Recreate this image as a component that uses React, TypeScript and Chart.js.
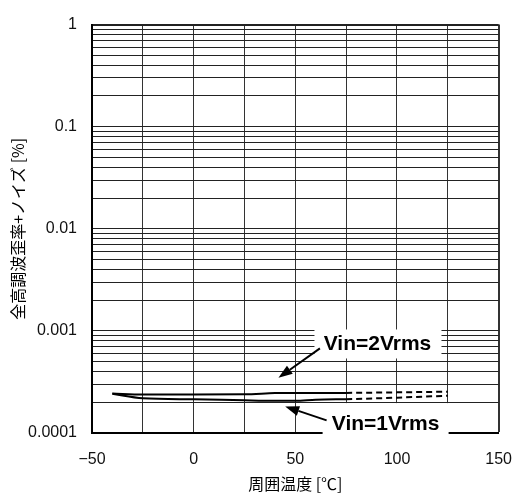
import { useEffect, useRef } from 'react';
import { Chart, registerables } from 'chart.js';

Chart.register(...registerables);

// ---- data ----
const solidTemps = [-40, -25, 0, 25, 40, 50, 60, 75];
const vin2Solid = [2.44e-4, 2.38e-4, 2.38e-4, 2.39e-4, 2.46e-4, 2.47e-4, 2.47e-4, 2.47e-4];
const vin1Solid = [2.42e-4, 2.19e-4, 2.14e-4, 2.09e-4, 2.07e-4, 2.07e-4, 2.12e-4, 2.14e-4];
const dottedTemps = [75, 100, 125];
const vin2Dotted = [2.47e-4, 2.5e-4, 2.54e-4];
const vin1Dotted = [2.14e-4, 2.22e-4, 2.32e-4];

const xTickValues = [-50, 0, 50, 100, 150];
const xTickLabels = ['\u221250', '0', '50', '100', '150'];
const yTickValues = [1, 0.1, 0.01, 0.001, 0.0001];
const yTickLabels = ['1', '0.1', '0.01', '0.001', '0.0001'];

const xTitle = '周囲温度 [℃]';
const yTitle = '全高調波歪率+ノイズ [%]';

// annotation anchors (data coordinates)
const annotTexts = ['Vin=2Vrms', 'Vin=1Vrms'];
const annotAt = [
  { x: 90.4, y: 7.53e-4 },
  { x: 94.4, y: 1.25e-4 },
];
const arrowTail = [
  { x: 62.1, y: 6.75e-4 },
  { x: 65.4, y: 1.33e-4 },
];
const arrowTip = [
  { x: 41.7, y: 3.47e-4 },
  { x: 45.0, y: 1.82e-4 },
];
// box extents relative to label center (px): left, top, width, height
const annotBox = [
  [-63, -14, 127, 29],
  [-63, -20, 126, 34],
];

const toPts = (xs: number[], ys: number[]) => xs.map((x, i) => ({ x, y: ys[i] }));

const annotationPlugin = {
  id: 'annotLabels',
  afterDraw(chart: any) {
    const { ctx, scales } = chart;
    const xs = scales.x;
    const ys = scales.y;
    ctx.save();
    annotTexts.forEach((text, i) => {
      const cx = xs.getPixelForValue(annotAt[i].x);
      const cy = ys.getPixelForValue(annotAt[i].y);
      const b = annotBox[i];
      ctx.fillStyle = '#fff';
      ctx.fillRect(cx + b[0], cy + b[1], b[2], b[3]);
      ctx.fillStyle = '#000';
      ctx.font = 'bold 21px "Liberation Sans", Arial, sans-serif';
      ctx.textAlign = 'center';
      ctx.textBaseline = 'middle';
      ctx.fillText(text, cx, cy + 1);

      const tx = xs.getPixelForValue(arrowTail[i].x);
      const ty = ys.getPixelForValue(arrowTail[i].y);
      const hx = xs.getPixelForValue(arrowTip[i].x);
      const hy = ys.getPixelForValue(arrowTip[i].y);
      const ang = Math.atan2(hy - ty, hx - tx);
      const headLen = 14;
      const headW = 5;
      const bx = hx - headLen * Math.cos(ang);
      const by = hy - headLen * Math.sin(ang);
      ctx.strokeStyle = '#000';
      ctx.lineWidth = 2;
      ctx.beginPath();
      ctx.moveTo(tx, ty);
      ctx.lineTo(bx, by);
      ctx.stroke();
      ctx.beginPath();
      ctx.moveTo(hx, hy);
      ctx.lineTo(bx + headW * Math.sin(ang), by - headW * Math.cos(ang));
      ctx.lineTo(bx - headW * Math.sin(ang), by + headW * Math.cos(ang));
      ctx.closePath();
      ctx.fill();
    });
    ctx.restore();
  },
};

const tickFont = { family: '"Liberation Sans", Arial, sans-serif', size: 16 };
const titleFont = { family: '"Noto Sans CJK JP", sans-serif', size: 16 };

export default function App() {
  const ref = useRef<HTMLCanvasElement | null>(null);

  useEffect(() => {
    if (!ref.current) return;
    const lineStyle = {
      borderColor: '#000',
      backgroundColor: '#000',
      borderWidth: 2,
      pointRadius: 0,
      fill: false,
      cubicInterpolationMode: 'monotone' as const,
    };
    const chart = new Chart(ref.current, {
      type: 'line',
      data: {
        datasets: [
          { label: 'Vin=2Vrms', data: toPts(solidTemps, vin2Solid), ...lineStyle },
          { label: 'Vin=1Vrms', data: toPts(solidTemps, vin1Solid), ...lineStyle },
          { label: 'Vin=2Vrms ext', data: toPts(dottedTemps, vin2Dotted), ...lineStyle, borderDash: [6, 4] },
          { label: 'Vin=1Vrms ext', data: toPts(dottedTemps, vin1Dotted), ...lineStyle, borderDash: [6, 4] },
        ],
      },
      options: {
        responsive: false,
        animation: false,
        devicePixelRatio: 1,
        layout: { padding: { top: 18, right: 16, bottom: 0, left: 0 } },
        plugins: { legend: { display: false }, tooltip: { enabled: false } },
        scales: {
          x: {
            type: 'linear',
            min: -50,
            max: 150,
            afterFit: (s: any) => {
              s.height = 61;
            },
            ticks: {
              stepSize: 25,
              autoSkip: false,
              maxRotation: 0,
              padding: 17,
              color: '#111',
              font: tickFont,
              callback: (v: any) => {
                const i = xTickValues.indexOf(Number(v));
                return i >= 0 ? xTickLabels[i] : '';
              },
            },
            grid: {
              color: '#333',
              drawTicks: false,
              lineWidth: (c: any) => (c.tick && c.tick.value === 150 ? 2 : 1),
            },
            border: { display: true, color: '#000', width: 2 },
            title: {
              display: true,
              text: xTitle,
              color: '#000',
              font: titleFont,
              padding: { top: 0, bottom: 0 },
            },
          },
          y: {
            type: 'logarithmic',
            min: 0.0001,
            max: 1,
            afterFit: (s: any) => {
              s.width = 92;
            },
            afterBuildTicks: (s: any) => {
              const t: any[] = [];
              for (let e = -4; e < 0; e++) {
                for (let m = 1; m < 10; m++) t.push({ value: m * Math.pow(10, e) });
              }
              t.push({ value: 1 });
              s.ticks = t;
            },
            ticks: {
              autoSkip: false,
              padding: 15,
              color: '#111',
              font: tickFont,
              callback: (v: any) => {
                const lv = Math.log10(Number(v));
                const i = yTickValues.findIndex((t) => Math.abs(Math.log10(t) - lv) < 1e-6);
                return i >= 0 ? yTickLabels[i] : '';
              },
            },
            grid: {
              color: '#222',
              drawTicks: false,
              lineWidth: (c: any) => (c.tick && Math.abs(c.tick.value - 1) < 1e-9 ? 2 : 1),
            },
            border: { display: true, color: '#000', width: 2 },
            title: {
              display: true,
              text: yTitle,
              color: '#000',
              font: titleFont,
              padding: { top: 8, bottom: 0 },
            },
          },
        },
      },
      plugins: [annotationPlugin],
    });
    return () => chart.destroy();
  }, []);

  return (
    <div style={{ position: 'fixed', left: 0, top: 0, width: 529, height: 494, background: '#fff' }}>
      <canvas ref={ref} width={529} height={494} style={{ display: 'block' }} />
    </div>
  );
}
